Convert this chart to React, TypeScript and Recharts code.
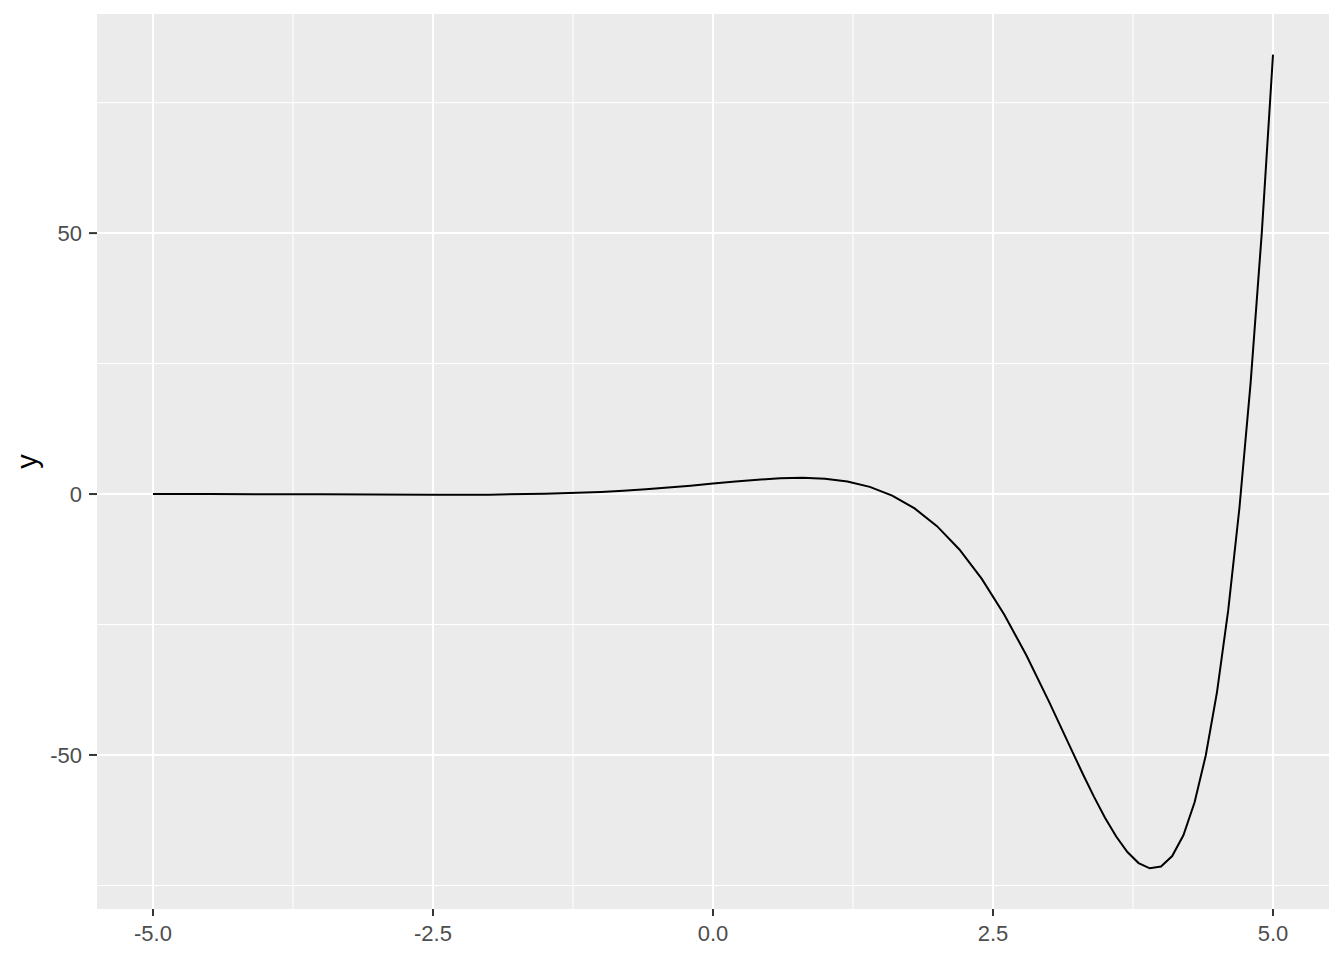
import {
  Label,
  Line,
  LineChart,
  ReferenceArea,
  ReferenceLine,
  XAxis,
  YAxis,
} from "recharts";

const xs = [
  -5, -4.5, -4, -3.5, -3, -2.5, -2, -1.5, -1, -0.8, -0.6, -0.4, -0.2, 0, 0.2,
  0.4, 0.6, 0.8, 1, 1.2, 1.4, 1.6, 1.8, 2, 2.2, 2.4, 2.6, 2.8, 3, 3.2, 3.3,
  3.4, 3.5, 3.6, 3.7, 3.8, 3.9, 4, 4.1, 4.2, 4.3, 4.4, 4.5, 4.6, 4.7, 4.8,
  4.9, 5,
];
const ys = [
  0.004, -0.005, -0.024, -0.057, -0.099, -0.132, -0.113, 0.032, 0.398, 0.626,
  0.906, 1.235, 1.605, 2.0, 2.394, 2.748, 3.008, 3.101, 2.937, 2.406, 1.379,
  -0.289, -2.749, -6.149, -10.623, -16.257, -23.074, -30.989, -39.769, -48.981,
  -53.546, -57.939, -62.023, -65.64, -68.607, -70.715, -71.725, -71.375,
  -69.369, -65.387, -59.078, -50.065, -37.951, -22.314, -2.724, 21.264, 50.093,
  84.197,
];

const xTicks = [-5, -2.5, 0, 2.5, 5];
const xMinor = [-3.75, -1.25, 1.25, 3.75];
const yTicks = [-50, 0, 50];
const yMinor = [-75, -25, 25, 75];

const xDomain = [-5.5, 5.5];
const yDomain = [-79.52, 91.99];

const data = xs.map((x, i) => ({ x, y: ys[i] }));

const font = '"Liberation Sans", Arial, sans-serif';

const App = () => {
  return (
    <div style={{ position: "absolute", left: 0, top: 0 }}>
      <LineChart
        width={1344}
        height={960}
        data={data}
        margin={{ top: 14, right: 15, left: 0, bottom: 0 }}
      >
        <XAxis
          dataKey="x"
          type="number"
          domain={xDomain}
          allowDataOverflow
          ticks={xTicks}
          tickFormatter={(v: number) => v.toFixed(1)}
          axisLine={false}
          tickLine={{ stroke: "#333333", strokeWidth: 2 }}
          tickSize={7}
          tickMargin={9}
          height={51}
          tick={{ fill: "#4D4D4D", fontSize: 22, fontFamily: font }}
        />
        <YAxis
          type="number"
          domain={yDomain}
          allowDataOverflow
          ticks={yTicks}
          axisLine={false}
          tickLine={{ stroke: "#333333", strokeWidth: 2 }}
          tickSize={8}
          tickMargin={7}
          width={97}
          tick={{ fill: "#4D4D4D", fontSize: 22, fontFamily: font }}
        >
          <Label
            content={(props: any) => {
              const vb = props.viewBox || {};
              const cy = (vb.y ?? 14) + (vb.height ?? 895) / 2;
              return (
                <text
                  x={37}
                  y={cy}
                  transform={`rotate(-90, 37, ${cy})`}
                  textAnchor="middle"
                  fill="#000"
                  fontSize={29}
                  fontFamily={font}
                >
                  y
                </text>
              );
            }}
          />
        </YAxis>
        <ReferenceArea
          x1={xDomain[0]}
          x2={xDomain[1]}
          y1={yDomain[0]}
          y2={yDomain[1]}
          fill="#EBEBEB"
          fillOpacity={1}
          stroke="none"
        />
        {yMinor.map((v) => (
          <ReferenceLine key={"ym" + v} y={v} stroke="#fff" strokeWidth={1} />
        ))}
        {xMinor.map((v) => (
          <ReferenceLine key={"xm" + v} x={v} stroke="#fff" strokeWidth={1} />
        ))}
        {yTicks.map((v) => (
          <ReferenceLine key={"y" + v} y={v} stroke="#fff" strokeWidth={2} />
        ))}
        {xTicks.map((v) => (
          <ReferenceLine key={"x" + v} x={v} stroke="#fff" strokeWidth={2} />
        ))}
        <Line
          type="linear"
          dataKey="y"
          stroke="#000"
          strokeWidth={2}
          dot={false}
          isAnimationActive={false}
        />
      </LineChart>
    </div>
  );
};

export default App;
